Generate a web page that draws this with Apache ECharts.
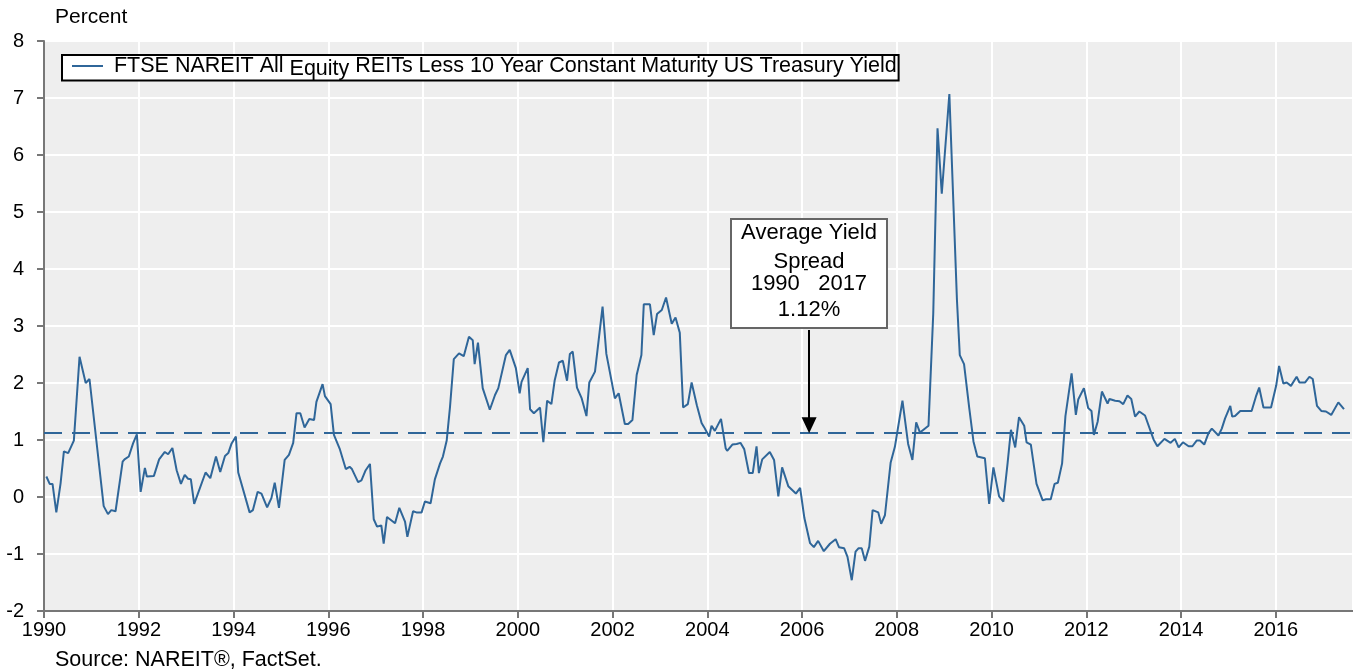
<!DOCTYPE html>
<html>
<head>
<meta charset="utf-8">
<script src="https://cdn.jsdelivr.net/npm/echarts@6/dist/echarts.min.js"></script>
<style>
  html, body { margin: 0; padding: 0; background: #fff; }
  #chart { width: 1353px; height: 671px; }
</style>
</head>
<body>
<div id="chart"></div>
<script>
// REIT yield spread over 10y treasury (decimal years)
var dates = [
  1990.05, 1990.12, 1990.18, 1990.26, 1990.35, 1990.42, 1990.51, 1990.63, 1990.75, 1990.88, 1990.96,
  1991.26, 1991.35, 1991.42, 1991.51, 1991.66, 1991.70, 1991.79, 1991.88, 1991.96,
  1992.04, 1992.13, 1992.17, 1992.32, 1992.43, 1992.55, 1992.62, 1992.71, 1992.80, 1992.89, 1992.97,
  1993.04, 1993.10, 1993.17, 1993.41, 1993.51, 1993.63, 1993.72, 1993.82, 1993.89, 1993.96,
  1994.05, 1994.10, 1994.34, 1994.41, 1994.51, 1994.59, 1994.71, 1994.80, 1994.87, 1994.96,
  1995.08, 1995.17, 1995.26, 1995.33, 1995.41, 1995.50, 1995.60, 1995.70, 1995.75, 1995.88, 1995.93,
  1996.05, 1996.12, 1996.24, 1996.37, 1996.45, 1996.50, 1996.63, 1996.70, 1996.79, 1996.88, 1996.96,
  1997.03, 1997.12, 1997.17, 1997.24, 1997.41, 1997.50, 1997.62, 1997.67, 1997.79, 1997.86, 1997.97,
  1998.04, 1998.16, 1998.25, 1998.36, 1998.42, 1998.50, 1998.57, 1998.65, 1998.76, 1998.86, 1998.97,
  1999.05, 1999.09, 1999.16, 1999.26, 1999.41, 1999.52, 1999.59, 1999.75, 1999.83, 1999.96,
  2000.04, 2000.08, 2000.21, 2000.26, 2000.34, 2000.47, 2000.54, 2000.62, 2000.71, 2000.78, 2000.87, 2000.95,
  2001.04, 2001.10, 2001.16, 2001.25, 2001.35, 2001.45, 2001.51, 2001.63, 2001.79, 2001.87,
  2002.05, 2002.13, 2002.26, 2002.33, 2002.42, 2002.51, 2002.61, 2002.66, 2002.79, 2002.87, 2002.94,
  2003.04, 2003.13, 2003.25, 2003.33, 2003.42, 2003.49, 2003.59, 2003.67, 2003.78, 2003.88, 2003.93,
  2004.04, 2004.09, 2004.16, 2004.29, 2004.39, 2004.42, 2004.53, 2004.62, 2004.70, 2004.78, 2004.88, 2004.96,
  2005.04, 2005.09, 2005.16, 2005.32, 2005.41, 2005.50, 2005.58, 2005.71, 2005.87, 2005.96,
  2006.05, 2006.17, 2006.25, 2006.34, 2006.46, 2006.59, 2006.71, 2006.78, 2006.89, 2006.96,
  2007.05, 2007.13, 2007.19, 2007.26, 2007.33, 2007.42, 2007.49, 2007.61, 2007.67, 2007.75, 2007.87, 2007.96,
  2008.12, 2008.24, 2008.33, 2008.41, 2008.49, 2008.67, 2008.77, 2008.86, 2008.95,
  2009.11, 2009.27, 2009.33, 2009.42, 2009.53, 2009.62, 2009.70, 2009.86, 2009.95,
  2010.04, 2010.07, 2010.16, 2010.25, 2010.34, 2010.41, 2010.50, 2010.58, 2010.69, 2010.74, 2010.83, 2010.95,
  2011.08, 2011.15, 2011.25, 2011.33, 2011.40, 2011.49, 2011.56, 2011.69, 2011.78, 2011.83, 2011.95,
  2012.04, 2012.11, 2012.16, 2012.24, 2012.33, 2012.45, 2012.49, 2012.61, 2012.70, 2012.78, 2012.87, 2012.95,
  2013.03, 2013.12, 2013.24, 2013.42, 2013.50, 2013.65, 2013.78, 2013.87, 2013.95,
  2014.04, 2014.16, 2014.24, 2014.33, 2014.40, 2014.49, 2014.58, 2014.65, 2014.79, 2014.86, 2014.93,
  2015.04, 2015.08, 2015.14, 2015.25, 2015.49, 2015.58, 2015.65, 2015.74, 2015.90,
  2016.01, 2016.07, 2016.16, 2016.23, 2016.32, 2016.44, 2016.50, 2016.62, 2016.71, 2016.78, 2016.87, 2016.96,
  2017.06, 2017.17, 2017.32, 2017.44
];
var spread = [
  0.36, 0.23, 0.23, -0.27, 0.24, 0.80, 0.77, 0.99, 2.46, 2.00, 2.07,
  -0.16, -0.30, -0.23, -0.25, 0.62, 0.66, 0.71, 0.94, 1.10,
  0.09, 0.51, 0.36, 0.37, 0.66, 0.79, 0.75, 0.86, 0.47, 0.23, 0.39,
  0.32, 0.31, -0.12, 0.43, 0.33, 0.71, 0.44, 0.72, 0.77, 0.94,
  1.06, 0.43, -0.27, -0.23, 0.09, 0.06, -0.18, -0.02, 0.25, -0.19,
  0.65, 0.74, 0.95, 1.47, 1.47, 1.22, 1.37, 1.35, 1.67, 1.98, 1.77,
  1.63, 1.09, 0.85, 0.49, 0.53, 0.49, 0.26, 0.29, 0.47, 0.58, -0.39,
  -0.52, -0.50, -0.82, -0.35, -0.46, -0.19, -0.43, -0.70, -0.25, -0.27, -0.27,
  -0.08, -0.11, 0.31, 0.59, 0.71, 0.99, 1.58, 2.42, 2.52, 2.47, 2.81,
  2.75, 2.33, 2.71, 1.91, 1.53, 1.79, 1.91, 2.49, 2.58, 2.26,
  1.82, 2.02, 2.26, 1.54, 1.47, 1.57, 0.96, 1.69, 1.63, 2.05, 2.36, 2.39,
  2.04, 2.51, 2.55, 1.92, 1.73, 1.42, 2.01, 2.20, 3.34, 2.51,
  1.73, 1.82, 1.28, 1.28, 1.35, 2.14, 2.49, 3.38, 3.38, 2.84, 3.21,
  3.28, 3.50, 3.04, 3.15, 2.88, 1.57, 1.63, 2.01, 1.61, 1.30, 1.23,
  1.06, 1.25, 1.16, 1.37, 0.85, 0.81, 0.92, 0.93, 0.95, 0.84, 0.42, 0.42,
  0.89, 0.42, 0.66, 0.79, 0.65, 0.01, 0.52, 0.19, 0.06, 0.16,
  -0.37, -0.81, -0.88, -0.77, -0.95, -0.82, -0.74, -0.88, -0.90, -1.05,
  -1.46, -0.96, -0.90, -0.90, -1.12, -0.87, -0.23, -0.27, -0.47, -0.32, 0.60, 0.88,
  1.69, 0.93, 0.65, 1.31, 1.13, 1.25, 3.22, 6.47, 5.32,
  7.07, 3.46, 2.49, 2.33, 1.56, 0.97, 0.71, 0.68, -0.12,
  0.52, 0.54, 0.01, -0.08, 0.60, 1.18, 0.87, 1.40, 1.25, 0.96, 0.92, 0.23,
  -0.06, -0.04, -0.04, 0.23, 0.25, 0.59, 1.42, 2.17, 1.44, 1.71, 1.91,
  1.56, 1.51, 1.09, 1.32, 1.85, 1.64, 1.72, 1.69, 1.68, 1.63, 1.78, 1.72,
  1.41, 1.50, 1.43, 1.01, 0.89, 1.02, 0.95, 1.02, 0.87,
  0.96, 0.89, 0.89, 0.99, 0.99, 0.92, 1.12, 1.20, 1.08, 1.20, 1.38,
  1.60, 1.41, 1.42, 1.51, 1.51, 1.76, 1.92, 1.57, 1.57,
  1.96, 2.30, 1.99, 2.01, 1.95, 2.11, 2.01, 2.01, 2.11, 2.07, 1.60, 1.51,
  1.50, 1.44, 1.66, 1.54
];
var avgSpread = 1.12;
var seriesName = "FTSE NAREIT All Equity REITs Less 10 Year Constant Maturity US Treasury Yield";

var font = "Liberation Sans, Arial, sans-serif";
var blue = "#2f6699";

// text lines of the "average" call-out box
var boxLines = [
  { text: "Average Yield", y: 233 },
  { text: "Spread", y: 262 },
  { text: "1990   2017", y: 284 },
  { text: "1.12%", y: 310 },
];

var boxElements = [
  {
    type: "rect",
    z: 100,
    shape: { x: 731, y: 219, width: 156, height: 109 },
    style: { fill: "#fff", stroke: "#666", lineWidth: 2 },
  },
  {
    type: "text",
    z: 101,
    x: 806,
    y: 270,
    style: { text: "-", font: "16px " + font, fill: "#000", align: "center", verticalAlign: "middle" },
  },
];
boxLines.forEach(function (l) {
  boxElements.push({
    type: "text",
    z: 101,
    x: 809,
    y: l.y,
    style: { text: l.text, font: "22px " + font, fill: "#000", align: "center", verticalAlign: "middle" },
  });
});

var chart = echarts.init(document.getElementById("chart"));
chart.setOption({
  animation: false,
  grid: {
    left: 44,
    right: 0,
    top: 41,
    bottom: 60,
    show: true,
    backgroundColor: "#eeeeee",
    borderWidth: 0,
  },
  legend: {
    left: 62,
    top: 55,
    padding: [0, 2, 0, 10],
    icon: "rect",
    itemWidth: 31,
    itemHeight: 2,
    borderColor: "#000",
    borderWidth: 2,
    backgroundColor: "#fff",
    data: [seriesName],
    formatter: function () {
      return " FTSE NAREIT All {low|Equity} REITs Less 10 Year Constant Maturity US Treasury Yield";
    },
    textStyle: {
      fontFamily: font,
      fontSize: 21.5,
      lineHeight: 22,
      color: "#000",
      rich: {
        low: { fontFamily: font, fontSize: 21.5, color: "#000", padding: [7, 0, 0, 0] },
      },
    },
  },
  xAxis: {
    type: "value",
    min: 1990,
    max: 2017.63,
    interval: 2,
    axisLine: { show: true, onZero: false, lineStyle: { color: "#777", width: 2 } },
    axisTick: { show: true, length: 7, lineStyle: { color: "#777", width: 2 } },
    axisLabel: {
      margin: 9,
      fontFamily: font,
      fontSize: 20,
      color: "#000",
      showMaxLabel: false,
      formatter: function (v) {
        return v % 2 === 0 ? String(v) : "";
      },
    },
    splitLine: { show: true, lineStyle: { color: "#fff", width: 2 } },
  },
  yAxis: {
    type: "value",
    min: -2,
    max: 8,
    interval: 1,
    axisLine: { show: true, lineStyle: { color: "#777", width: 2 } },
    axisTick: { show: true, length: 7, lineStyle: { color: "#777", width: 2 } },
    axisLabel: { margin: 20, fontFamily: font, fontSize: 20, color: "#000" },
    splitLine: { show: true, lineStyle: { color: "#fff", width: 2 } },
  },
  series: [
    {
      name: seriesName,
      type: "line",
      symbol: "none",
      data: dates.map(function (d, i) {
        return [d, spread[i]];
      }),
      lineStyle: { color: blue, width: 2 },
      itemStyle: { color: blue },
      markLine: {
        silent: true,
        symbol: ["none", "none"],
        label: { show: false },
        data: [
          {
            yAxis: avgSpread,
            lineStyle: { color: blue, width: 1.8, type: [18, 10] },
          },
          [
            { coord: [2006.15, 2.93], symbol: "none", lineStyle: { color: "#000", width: 2, type: "solid" } },
            { coord: [2006.15, 1.26], symbol: "triangle", symbolSize: [15, 16] },
          ],
        ],
      },
    },
  ],
  graphic: [
    {
      type: "text",
      left: 55,
      top: 7,
      style: { text: "Percent", font: "21px " + font, fill: "#000" },
    },
    {
      type: "text",
      left: 55,
      top: 649,
      style: { text: "Source: NAREIT®, FactSet.", font: "21.5px " + font, fill: "#000" },
    },
  ].concat(boxElements),
});
</script>
</body>
</html>
